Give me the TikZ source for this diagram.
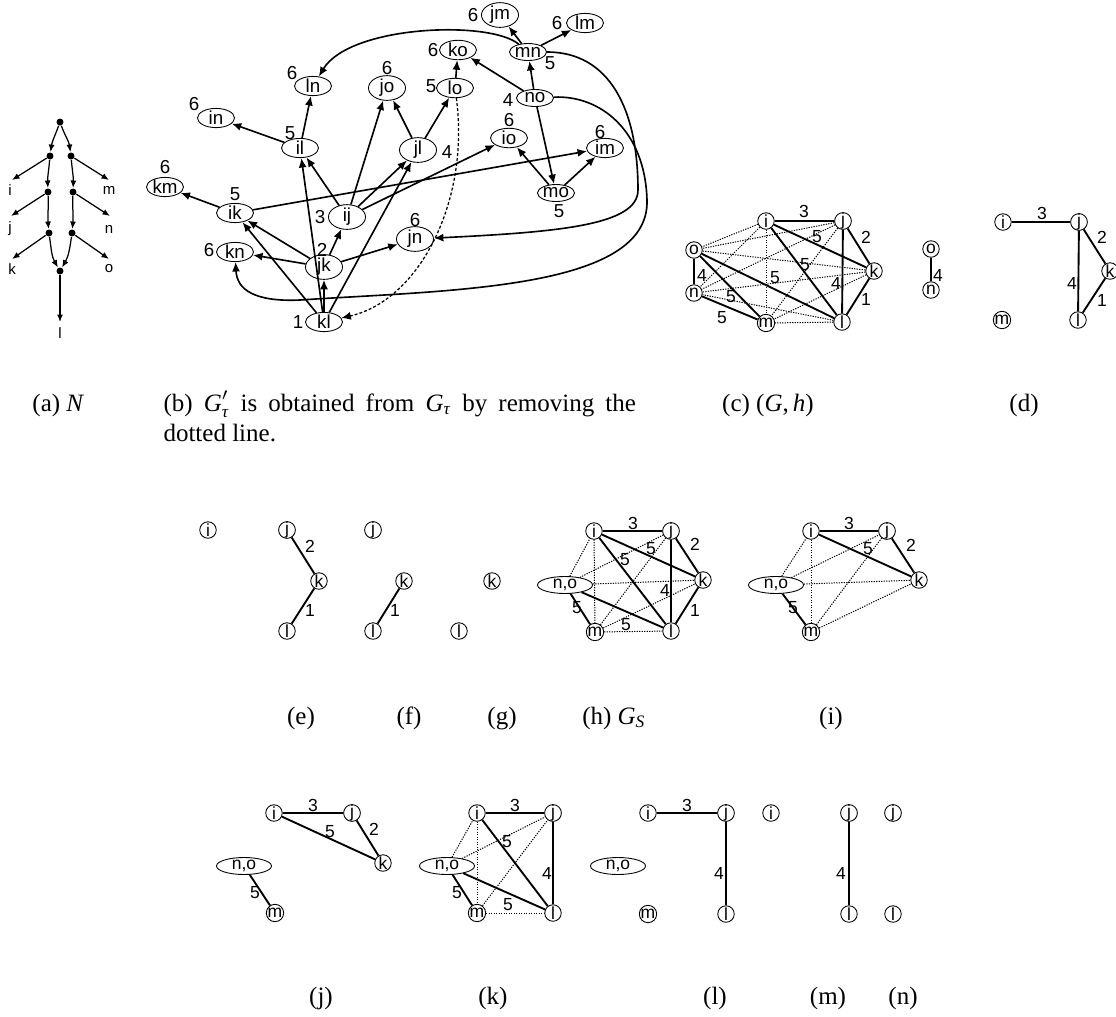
\documentclass[tikz,border=0pt]{standalone}
\usepackage{amsmath}
\usepackage{fontspec}
\setmainfont{Liberation Serif}
\newfontfamily\arialf{Liberation Sans}
\usetikzlibrary{shapes.geometric,arrows.meta}
\tikzset{
  gfont/.style={font=\arialf\fontsize{7pt}{7.5pt}\selectfont},
  bfont/.style={font=\arialf\fontsize{7.5pt}{8pt}\selectfont},
  afont/.style={font=\arialf\fontsize{6pt}{6.5pt}\selectfont},
  cnode/.style={circle,draw,line width=0.35pt,minimum size=6.6pt,inner sep=0pt,gfont},
  pnode/.style={ellipse,draw,line width=0.35pt,minimum width=22pt,minimum height=6.8pt,inner sep=0pt,gfont},
  bnode/.style={ellipse,draw,line width=0.35pt,minimum width=14.8pt,minimum height=6.8pt,inner sep=0pt,bfont},
  wlab/.style={inner sep=0pt,gfont},
  bwlab/.style={inner sep=0pt,bfont},
  alab/.style={inner sep=0pt,afont},
  sedge/.style={line width=0.75pt},
  dedge/.style={line width=0.4pt,dash pattern=on 0.5pt off 0.5pt},
  barr/.style={line width=0.65pt,-{Latex[length=3.8pt,width=3.2pt]}},
  bdots/.style={line width=0.5pt,dash pattern=on 1.2pt off 0.8pt,-{Latex[length=3.8pt,width=3.2pt]}},
  adot/.style={circle,fill,inner sep=0pt,minimum size=2.8pt},
  aarr/.style={line width=0.5pt,-{Latex[length=3pt,width=2.4pt]}},
  captxt/.style={inner sep=0pt,font=\fontsize{10pt}{12pt}\selectfont,anchor=base},
}
\begin{document}
\begin{tikzpicture}[x=0.4pt,y=-0.4pt]
\clip (0,0) rectangle (1116,1016);
\fill[white] (0,0) rectangle (1116,1016);

% ---------------- (a) N ----------------
\node[adot] (aR) at (60,122) {};
\node[adot] (aL1) at (50,156) {};
\node[adot] (aL2) at (48,192) {};
\node[adot] (aL3) at (49,233) {};
\node[adot] (aR1) at (71,156) {};
\node[adot] (aR2) at (73,192) {};
\node[adot] (aR3) at (72,233) {};
\node[adot] (aB) at (60,271) {};
\draw[aarr] (aR) to[out=-110,in=82] (aL1);
\draw[aarr] (aL1) to[out=-95,in=92] (aL2);
\draw[aarr] (aL2) to[out=-88,in=95] (aL3);
\draw[aarr] (aL3) to[out=-82,in=120] (aB);
\draw[aarr] (aR) to[out=-70,in=98] (aR1);
\draw[aarr] (aR1) to[out=-85,in=88] (aR2);
\draw[aarr] (aR2) to[out=-92,in=85] (aR3);
\draw[aarr] (aR3) to[out=-98,in=60] (aB);
\coordinate (aie) at (12,180);
\coordinate (aje) at (11,216);
\coordinate (ake) at (12,259);
\coordinate (ame) at (109,180);
\coordinate (ane) at (110,216);
\coordinate (aoe) at (109,259);
\coordinate (ale) at (60,322);
\draw[aarr] (aL1) -- (aie);
\draw[aarr] (aL2) -- (aje);
\draw[aarr] (aL3) -- (ake);
\draw[aarr] (aR1) -- (ame);
\draw[aarr] (aR2) -- (ane);
\draw[aarr] (aR3) -- (aoe);
\draw[aarr] (aB) -- (ale);
\node[alab] (ai) at (10,190) {i};
\node[alab] (aj) at (10,229) {j};
\node[alab] (ak) at (12,269) {k};
\node[alab] (am) at (109,190) {m};
\node[alab] (an) at (109,229) {n};
\node[alab] (ao) at (109,269) {o};
\node[alab] (al) at (60,333) {l};

% ---------------- (b) G_tau ----------------
\node[bnode] (bln) at (313,86) {ln};
\node[bnode] (bjo) at (387,88) {jo};
\node[bnode] (bin) at (216,118) {in};
\node[bnode] (bil) at (300,148) {il};
\node[bnode] (bkm) at (165,187) {km};
\node[bnode] (bjm) at (500,15) {jm};
\node[bnode] (blm) at (585,23) {lm};
\node[bnode] (bmn) at (528,52) {mn};
\node[bnode] (bko) at (458,50) {ko};
\node[bnode] (blo) at (455,88) {lo};
\node[bnode] (bno) at (535,98) {no};
\node[bnode] (bio) at (509,138) {io};
\node[bnode] (bjl) at (418,150) {jl};
\node[bnode] (bim) at (605,148) {im};
\node[bnode] (bik) at (235,213) {ik};
\node[bnode] (bij) at (347,217) {ij};
\node[bnode] (bkn) at (235,252) {kn};
\node[bnode] (bjk) at (324,267) {jk};
\node[bnode] (bkl) at (324,322) {kl};
\node[bnode] (bmo) at (556,193) {mo};
\node[bnode] (bjn) at (415,239) {jn};

\node[bwlab] (wln) at (292,73) {6};
\node[bwlab] (wjo) at (387,68) {6};
\node[bwlab] (win) at (194,104) {6};
\node[bwlab] (wil) at (290,133) {5};
\node[bwlab] (wkm) at (165,167) {6};
\node[bwlab] (wjm) at (473,15) {6};
\node[bwlab] (wlm) at (557,23) {6};
\node[bwlab] (wmn) at (550,63) {5};
\node[bwlab] (wko) at (433,50) {6};
\node[bwlab] (wlo) at (431,86) {5};
\node[bwlab] (wno) at (508,100) {4};
\node[bwlab] (wio) at (509,120) {6};
\node[bwlab] (wjl) at (447,152) {4};
\node[bwlab] (wim) at (600,132) {6};
\node[bwlab] (wik) at (235,194) {5};
\node[bwlab] (wij) at (320,217) {3};
\node[bwlab] (wkn) at (209,250) {6};
\node[bwlab] (wjk) at (322,250) {2};
\node[bwlab] (wkl) at (298,322) {1};
\node[bwlab] (wmo) at (559,211) {5};
\node[bwlab] (wjn) at (415,220) {6};

\draw[barr] (bil) -- (bln);
\draw[barr] (bil) -- (bin);
\draw[barr] (bik) -- (bkm);
\draw[barr] (bkl) -- (bil);
\draw[barr] (bij) -- (bil);
\draw[barr] (bij) -- (bjo);
\draw[barr] (bjl) -- (bjo);
\draw[barr] (bjl) -- (blo);
\draw[barr] (blo) -- (bko);
\draw[barr] (bno) -- (bko);
\draw[barr] (bno) -- (bmn);
\draw[barr] (bmn) -- (bjm);
\draw[barr] (bmn) -- (blm);
\draw[barr] (bno) -- (bmo);
\draw[barr] (bmo) -- (bio);
\draw[barr] (bmo) -- (bim);
\draw[barr] (bij) -- (bjl);
\draw[barr] (bkl) -- (bjl);
\draw[barr] (bij) -- (bio);
\draw[barr] (bik) -- (bim);
\draw[barr] (bjk) -- (bij);
\draw[barr] (bjk) -- (bik);
\draw[barr] (bkl) -- (bik);
\draw[barr] (bjk) -- (bkn);
\draw[barr] (bkl) -- (bjk);
\draw[barr] (bjk) -- (bjn);
\draw[barr] (bmn) .. controls (490,20) and (350,25) .. (bln);
\coordinate (bc1) at (638,190);
\draw[barr] (bmn) .. controls (610,52) and (638,110) .. (bc1) .. controls (638,225) and (560,232) .. (bjn);
\coordinate (bc2) at (647,200);
\coordinate (bc3) at (300,300);
\draw[barr] (bno) .. controls (600,95) and (645,130) .. (bc2) .. controls (650,290) and (450,290) .. (bc3) .. controls (255,302) and (237,290) .. (bkn);
\draw[bdots] (blo) .. controls (470,200) and (420,300) .. (bkl);

% ---------------- (c) (G,h) ----------------
\node[cnode] (ci) at (766,221) {i};
\node[cnode] (cj) at (843,221) {j};
\node[cnode] (ck) at (874,271) {k};
\node[cnode] (cl) at (842,322) {l};
\node[cnode] (cm) at (766,323) {m};
\node[cnode] (cn) at (694,293) {n};
\node[cnode] (co) at (694,250) {o};
\foreach \a/\b in {ci/co,cj/co,ck/co,ci/cn,cj/cn,ck/cn,cl/cn,ci/cm,cj/cm,ck/cm,cl/cm}
  \draw[dedge] (\a) -- (\b);
\foreach \a/\b in {ci/cj,cj/ck,ck/cl,cj/cl,ci/ck,ci/cl,co/cl,co/cm,cn/cm,co/cn}
  \draw[sedge] (\a) -- (\b);
\node[wlab] (cw1) at (804,211) {3};
\node[wlab] (cw2) at (866,237) {2};
\node[wlab] (cw3) at (866,299) {1};
\node[wlab] (cw4) at (817,237) {5};
\node[wlab] (cw5) at (805,265) {5};
\node[wlab] (cw6) at (836,283) {4};
\node[wlab] (cw7) at (775,278) {5};
\node[wlab] (cw8) at (731,297) {5};
\node[wlab] (cw9) at (722,318) {5};
\node[wlab] (cw10) at (702,275) {4};

% ---------------- (d) ----------------
\node[cnode] (do) at (931,249) {o};
\node[cnode] (dn) at (931,290) {n};
\node[cnode] (di) at (1003,222) {i};
\node[cnode] (dj) at (1079,222) {j};
\node[cnode] (dk) at (1110,271) {k};
\node[cnode] (dl) at (1078,320) {l};
\node[cnode] (dm) at (1002,320) {m};
\foreach \a/\b in {do/dn,di/dj,dj/dk,dk/dl,dj/dl}
  \draw[sedge] (\a) -- (\b);
\node[wlab] (dw1) at (938,275) {4};
\node[wlab] (dw2) at (1042,213) {3};
\node[wlab] (dw3) at (1102,237) {2};
\node[wlab] (dw4) at (1072,283) {4};
\node[wlab] (dw5) at (1102,300) {1};

% ---------------- (e) ----------------
\node[cnode] (ei) at (208,530) {i};
\node[cnode] (ej) at (287,530) {j};
\node[cnode] (ek) at (319,581) {k};
\node[cnode] (el) at (287,631) {l};
\draw[sedge] (ej) -- (ek);
\draw[sedge] (ek) -- (el);
\node[wlab] (ew1) at (310,546) {2};
\node[wlab] (ew2) at (310,610) {1};

% ---------------- (f) ----------------
\node[cnode] (fj) at (373,530) {j};
\node[cnode] (fk) at (404,581) {k};
\node[cnode] (fl) at (373,631) {l};
\draw[sedge] (fk) -- (fl);
\node[wlab] (fw1) at (395,610) {1};

% ---------------- (g) ----------------
\node[cnode] (gk) at (492,581) {k};
\node[cnode] (gl) at (459,631) {l};

% ---------------- (h) G_S ----------------
\node[cnode] (hi) at (594,531) {i};
\node[cnode] (hj) at (671,531) {j};
\node[cnode] (hk) at (703,580) {k};
\node[cnode] (hl) at (671,631) {l};
\node[cnode] (hm) at (595,632) {m};
\node[pnode] (hno) at (565,585) {n,o};
\foreach \a/\b in {hno/hi,hno/hj,hno/hk,hi/hm,hm/hj,hm/hk,hm/hl}
  \draw[dedge] (\a) -- (\b);
\foreach \a/\b in {hi/hj,hj/hk,hk/hl,hj/hl,hi/hk,hi/hl,hno/hm,hno/hl}
  \draw[sedge] (\a) -- (\b);
\node[wlab] (hw1) at (633,523) {3};
\node[wlab] (hw2) at (695,544) {2};
\node[wlab] (hw3) at (651,549) {5};
\node[wlab] (hw4) at (625,560) {5};
\node[wlab] (hw5) at (665,590) {4};
\node[wlab] (hw6) at (695,610) {1};
\node[wlab] (hw7) at (577,608) {5};
\node[wlab] (hw8) at (626,625) {5};

% ---------------- (i) ----------------
\node[cnode] (ii) at (811,531) {i};
\node[cnode] (ij) at (887,531) {j};
\node[cnode] (ik) at (919,580) {k};
\node[cnode] (im) at (811,632) {m};
\node[pnode] (ino) at (776,585) {n,o};
\foreach \a/\b in {ino/ii,ino/ij,ino/ik,ii/im,im/ij,im/ik}
  \draw[dedge] (\a) -- (\b);
\foreach \a/\b in {ii/ij,ij/ik,ii/ik,ino/im}
  \draw[sedge] (\a) -- (\b);
\node[wlab] (iw1) at (849,523) {3};
\node[wlab] (iw2) at (911,545) {2};
\node[wlab] (iw3) at (868,549) {5};
\node[wlab] (iw4) at (793,608) {5};

% ---------------- (j) ----------------
\node[cnode] (ji) at (274,813) {i};
\node[cnode] (jj) at (352,813) {j};
\node[cnode] (jk) at (383,863) {k};
\node[cnode] (jm) at (275,913) {m};
\node[pnode] (jno) at (244,866) {n,o};
\foreach \a/\b in {ji/jj,jj/jk,ji/jk,jno/jm}
  \draw[sedge] (\a) -- (\b);
\node[wlab] (jw1) at (313,805) {3};
\node[wlab] (jw2) at (374,829) {2};
\node[wlab] (jw3) at (330,832) {5};
\node[wlab] (jw4) at (255,893) {5};

% ---------------- (k) ----------------
\node[cnode] (ki) at (477,813) {i};
\node[cnode] (kj) at (553,813) {j};
\node[cnode] (kl) at (553,913) {l};
\node[cnode] (km) at (477,913) {m};
\node[pnode] (kno) at (447,866) {n,o};
\foreach \a/\b in {kno/ki,kno/kj,ki/km,km/kj,km/kl}
  \draw[dedge] (\a) -- (\b);
\foreach \a/\b in {ki/kj,kj/kl,ki/kl,kno/km,kno/kl}
  \draw[sedge] (\a) -- (\b);
\node[wlab] (kw1) at (515,805) {3};
\node[wlab] (kw2) at (507,842) {5};
\node[wlab] (kw3) at (547,873) {4};
\node[wlab] (kw4) at (457,893) {5};
\node[wlab] (kw5) at (508,905) {5};

% ---------------- (l) ----------------
\node[cnode] (li) at (648,813) {i};
\node[cnode] (lj) at (726,813) {j};
\node[cnode] (ll) at (726,914) {l};
\node[cnode] (lm) at (648,914) {m};
\node[pnode] (lno) at (618,866) {n,o};
\draw[sedge] (li) -- (lj);
\draw[sedge] (lj) -- (ll);
\node[wlab] (lw1) at (687,805) {3};
\node[wlab] (lw2) at (719,873) {4};

% ---------------- (m) ----------------
\node[cnode] (mi) at (771,813) {i};
\node[cnode] (mj) at (849,813) {j};
\node[cnode] (ml) at (849,914) {l};
\draw[sedge] (mj) -- (ml);
\node[wlab] (mw1) at (841,873) {4};

% ---------------- (n) ----------------
\node[cnode] (nj) at (893,813) {j};
\node[cnode] (nl) at (893,914) {l};

% ---------------- captions ----------------
\node[captxt,anchor=base west] (capa) at (32,411) {(a) \textit{N}};
\node[captxt,anchor=base west] (capb1) at (163,411) {\makebox[189pt][s]{(b) $\textit{G}'_{\textit{τ}}$ is obtained from $\textit{G}_{\textit{τ}}$ by removing the}};
\node[captxt,anchor=base west] (capb2) at (163,441) {dotted line.};
\node[captxt] (capc) at (768,411) {(c) (\textit{G},\,\textit{h})};
\node[captxt] (capd) at (1024,411) {(d)};
\node[captxt] (cape) at (301,724) {(e)};
\node[captxt] (capf) at (409,724) {(f)};
\node[captxt] (capg) at (502,724) {(g)};
\node[captxt] (caph) at (614,724) {(h) $\textit{G}_{\textit{S}}$};
\node[captxt] (capi) at (831,724) {(i)};
\node[captxt] (capj) at (321,1004) {(j)};
\node[captxt] (capk) at (493,1004) {(k)};
\node[captxt] (capl) at (715,1004) {(l)};
\node[captxt] (capm) at (828,1004) {(m)};
\node[captxt] (capn) at (903,1004) {(n)};
\end{tikzpicture}
\end{document}
